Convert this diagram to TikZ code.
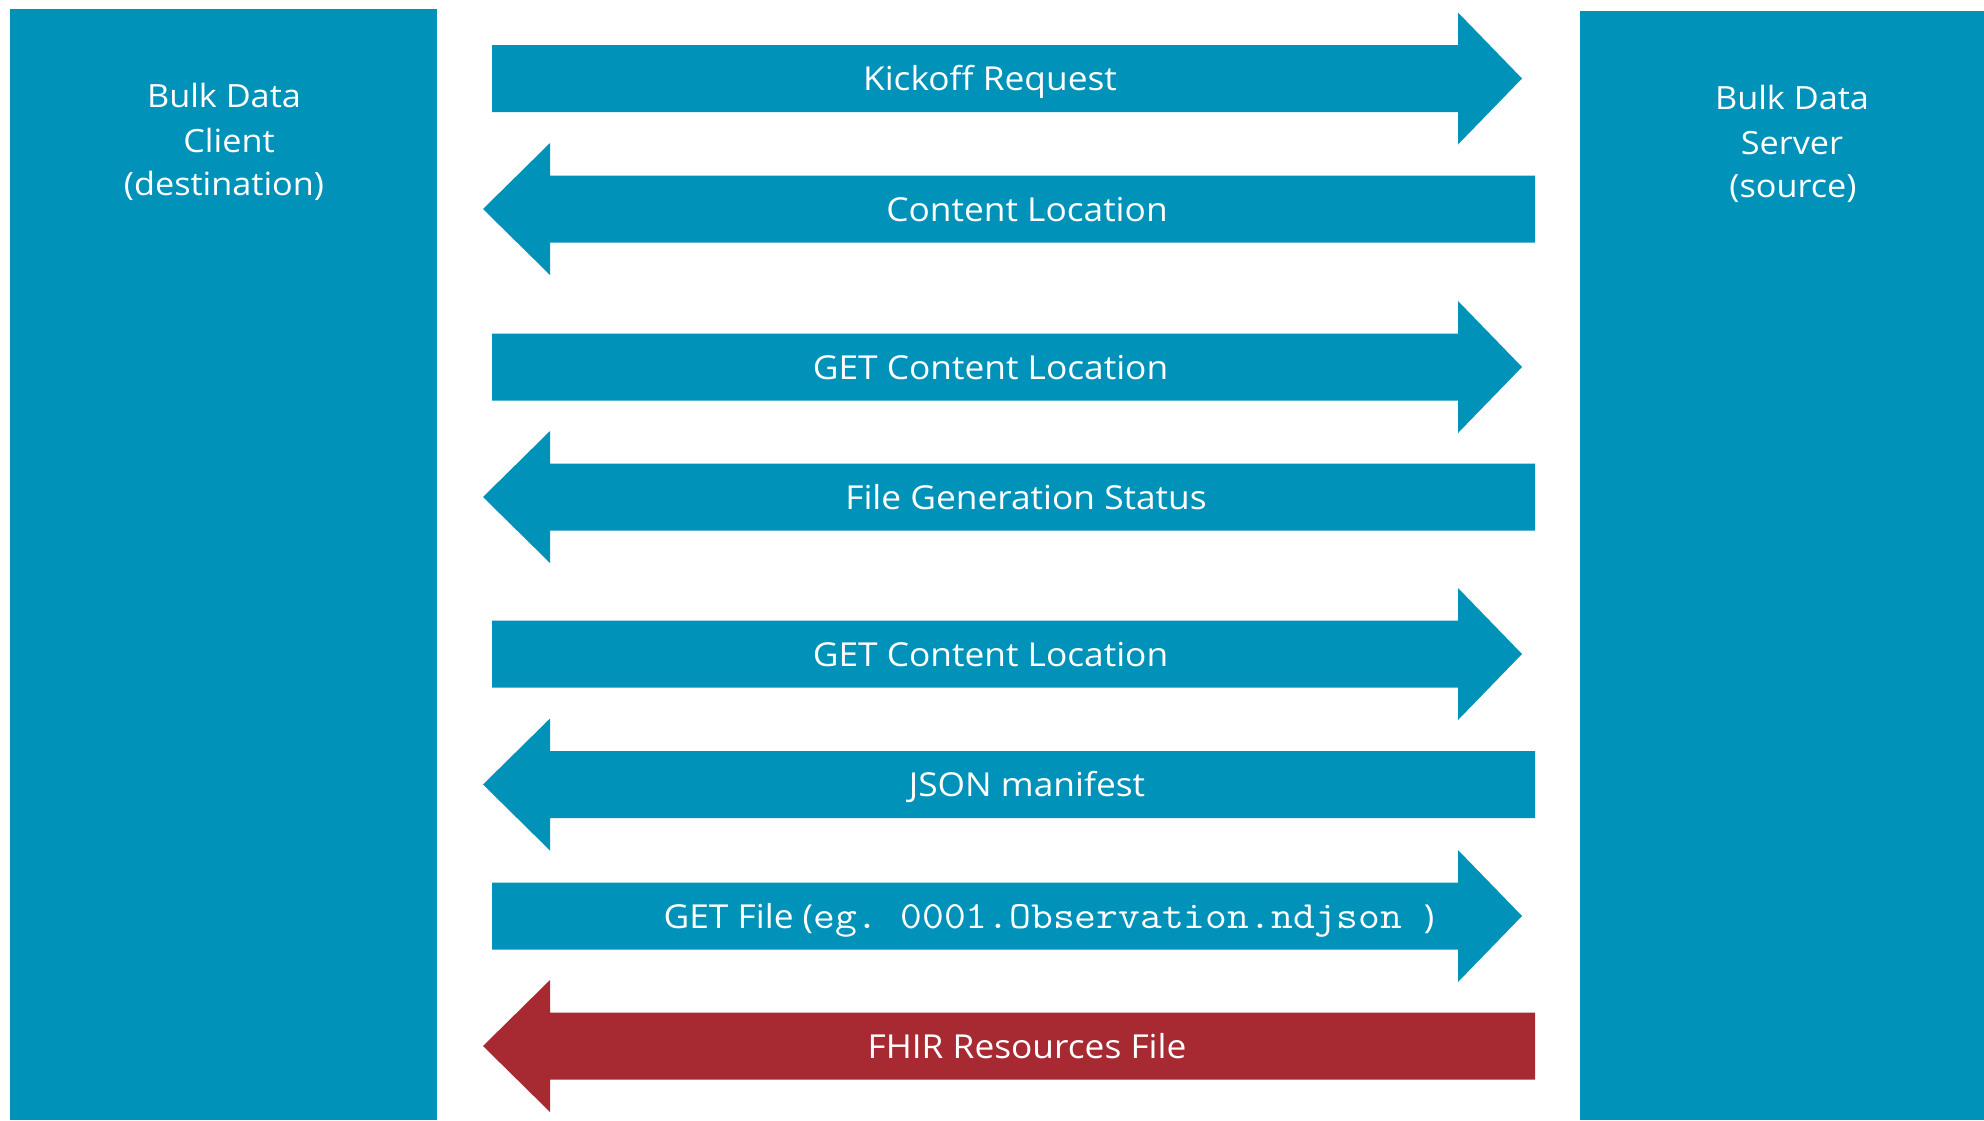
\documentclass[tikz,border=0pt]{standalone}
\usepackage{fontspec}
\setmainfont[FakeStretch=1.07]{Open Sans}
\setmonofont[FakeStretch=1.1]{Latin Modern Mono}
\definecolor{blueC}{HTML}{0092B9}
\definecolor{redC}{HTML}{A72A33}
\begin{document}
\begin{tikzpicture}[x=1pt,y=-1pt,
  rarrow/.pic={\fill[pic actions] (492,-33.5) -- (1458,-33.5) -- (1458,-66) -- (1522,0) -- (1458,66) -- (1458,33.5) -- (492,33.5) -- cycle;},
  larrow/.pic={\fill[pic actions] (1535,-33.5) -- (550,-33.5) -- (550,-66) -- (483,0) -- (550,66) -- (550,33.5) -- (1535,33.5) -- cycle;},
  lbl/.style={anchor=base, text=white, inner sep=0pt, font=\fontsize{33}{40}\selectfont},
  ptext/.style={anchor=base, text=white, inner sep=0pt, font=\fontsize{32}{40}\selectfont}]
\useasboundingbox (0,0) rectangle (1984,1120);
\fill[white] (0,0) rectangle (1984,1120);
% panels
\fill[blueC] (10,9) rectangle (437,1120);
\fill[blueC] (1580,11) rectangle (1984,1120);
\node[ptext] (c1) at (224,107) {Bulk Data};
\node[ptext] (c2) at (229,152) {Client};
\node[ptext] (c3) at (224,195) {(destination)};
\node[ptext] (s1) at (1792,109.5) {Bulk Data};
\node[ptext] (s2) at (1792,154.5) {Server};
\node[ptext] (s3) at (1793,197.5) {(source)};
% arrows
\pic[fill=blueC] at (0,78.5) {rarrow};
\pic[fill=blueC] at (0,209) {larrow};
\pic[fill=blueC] at (0,367) {rarrow};
\pic[fill=blueC] at (0,497) {larrow};
\pic[fill=blueC] at (0,654) {rarrow};
\pic[fill=blueC] at (0,784.5) {larrow};
\pic[fill=blueC] at (0,916) {rarrow};
\pic[fill=redC] at (0,1046) {larrow};
% labels
\node[lbl] (a1) at (990,90.5) {Kickoff Request};
\node[lbl] (a2) at (1027,221) {Content Location};
\node[lbl] (a3) at (990.5,379) {GET Content Location};
\node[lbl] (a4) at (1026,509) {File Generation Status};
\node[lbl] (a5) at (990.5,666) {GET Content Location};
\node[lbl] (a6) at (1027,796.5) {JSON manifest};
\node[lbl] (a7) at (1049,928) {GET File (\texttt{\fontsize{38.5}{40}\selectfont eg. 0001.Observation.ndjson })};
\node[lbl] (a8) at (1027,1058) {FHIR Resources File};
\end{tikzpicture}
\end{document}
